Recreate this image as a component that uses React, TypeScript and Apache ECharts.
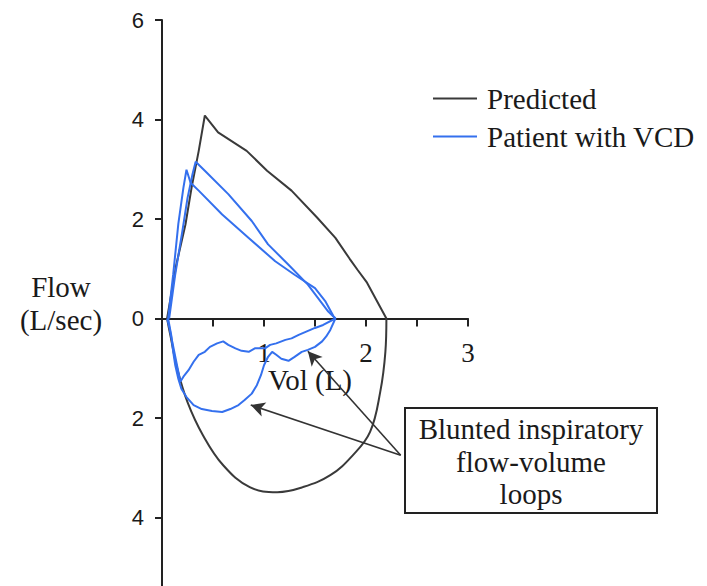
import React, { useEffect, useRef } from "react";
import * as echarts from "echarts";

// Flow-volume loops: [volume (L), flow (L/sec)], expiration positive, inspiration negative.
const predictedExpiration: [number, number][] = [
  [0.05, 0], [0.14, 1.08], [0.23, 1.89], [0.29, 2.63], [0.36, 3.37], [0.42, 4.08],
  [0.55, 3.74], [0.83, 3.37], [1.03, 2.97], [1.27, 2.57], [1.52, 2.03], [1.7, 1.62],
  [1.84, 1.2], [1.92, 0.97], [2.01, 0.72], [2.2, 0],
];
const predictedInspiration: [number, number][] = [
  [2.2, 0], [2.19, -0.67], [2.14, -1.47], [2.04, -2.28], [1.87, -2.75], [1.65, -3.15],
  [1.38, -3.39], [1.13, -3.49], [0.86, -3.39], [0.6, -2.95], [0.4, -2.34], [0.25, -1.68],
  [0.15, -1.01], [0.08, -0.32], [0.05, 0],
];

// Patient loop 1: lower expiratory limb with the lower inspiratory limb
const patientLoop1: [number, number][] = [
  [0.06, 0], [0.11, 0.89], [0.16, 1.9], [0.21, 2.63], [0.24, 2.99], [0.28, 2.73],
  [0.36, 2.57], [0.59, 2.09], [0.85, 1.62], [1.11, 1.15], [1.3, 0.88], [1.5, 0.61],
  [1.6, 0.35], [1.68, 0.05], [1.7, 0],
  [1.65, -0.23], [1.61, -0.36], [1.57, -0.46], [1.5, -0.57], [1.43, -0.63], [1.37, -0.67],
  [1.3, -0.77], [1.24, -0.85], [1.17, -0.81], [1.12, -0.73], [1.08, -0.67], [1.04, -0.77],
  [1.0, -0.94], [0.97, -1.14], [0.93, -1.34], [0.88, -1.51], [0.81, -1.64], [0.75, -1.74],
  [0.67, -1.82], [0.59, -1.88], [0.49, -1.86], [0.39, -1.82], [0.31, -1.74], [0.24, -1.58],
  [0.19, -1.41], [0.16, -1.21], [0.13, -0.94], [0.11, -0.67], [0.09, -0.33], [0.06, 0],
];

// Patient loop 2: upper expiratory limb with the upper inspiratory limb
const patientLoop2: [number, number][] = [
  [0.07, 0], [0.13, 0.89], [0.2, 1.76], [0.25, 2.42], [0.3, 2.91], [0.33, 3.15],
  [0.42, 2.97], [0.65, 2.5], [0.88, 1.96], [1.04, 1.49], [1.24, 1.08], [1.43, 0.68],
  [1.63, 0.14], [1.7, 0],
  [1.58, -0.13], [1.5, -0.19], [1.42, -0.26], [1.34, -0.33], [1.27, -0.4], [1.21, -0.43],
  [1.12, -0.5], [1.06, -0.53], [1.01, -0.6], [0.91, -0.6], [0.85, -0.67], [0.78, -0.65],
  [0.72, -0.6], [0.65, -0.53], [0.6, -0.46], [0.54, -0.5], [0.47, -0.57], [0.42, -0.67],
  [0.36, -0.73], [0.31, -0.87], [0.26, -1.04], [0.21, -1.17], [0.18, -1.27],
  [0.14, -0.87], [0.1, -0.46], [0.07, -0.16], [0.05, 0],
];

// Callout arrows: from the note box to the blunted inspiratory limbs
const arrowTail: [number, number] = [2.34, -2.75];
const arrowTips: [number, number][] = [
  [1.43, -0.66],
  [0.87, -1.74],
];

const seriesNames = ["Predicted", "Patient with VCD"];
const noteLines = ["Blunted inspiratory", "flow-volume", "loops"];

const BLACK = "#3a3a3a";
const BLUE = "#3470ee";
const SERIF = "'Liberation Serif', 'Times New Roman', serif";
const SANS = "'Liberation Sans', Arial, sans-serif";
const SERIF_SIZE = 29;

// Plot frame: flow runs from +6 down to -6; the volume axis sits on zero flow.
const GRID_TOP = 20;
const GRID_HEIGHT = 597;
const FLOW_MIN = -6;
const FLOW_MAX = 6;
const ZERO_OFFSET = (GRID_HEIGHT * FLOW_MIN) / (FLOW_MAX - FLOW_MIN);

export default function App() {
  const ref = useRef<HTMLDivElement>(null);

  useEffect(() => {
    if (!ref.current) return;
    const chart = echarts.init(ref.current, undefined, { renderer: "svg" });

    const lineSeries = (name: string, data: [number, number][], color: string, smooth: number | boolean = false) => ({
      name,
      type: "line",
      data,
      showSymbol: false,
      smooth,
      lineStyle: { color, width: 2 },
      itemStyle: { color },
      z: name === seriesNames[1] ? 3 : 2,
    });

    const serifText = (text: string, x: number, y: number, z = 5) => ({
      type: "text",
      x,
      y,
      z,
      style: {
        text,
        fontFamily: SERIF,
        fontSize: SERIF_SIZE,
        fill: "#1a1a1a",
        align: "center",
        verticalAlign: "middle",
      },
    });

    chart.setOption({
      animation: false,
      backgroundColor: "#ffffff",
      grid: {
        left: 162,
        top: GRID_TOP,
        width: 306,
        height: GRID_HEIGHT,
        containLabel: false,
        outerBoundsMode: "none",
      },
      legend: {
        data: seriesNames,
        orient: "vertical",
        left: 428,
        top: 79,
        icon: "rect",
        itemWidth: 44,
        itemHeight: 2,
        itemGap: 9,
        selectedMode: false,
        textStyle: {
          fontFamily: SERIF,
          fontSize: SERIF_SIZE,
          lineHeight: 29,
          color: "#1a1a1a",
          padding: [0, 0, 0, 5],
        },
      },
      xAxis: {
        type: "value",
        position: "bottom",
        offset: ZERO_OFFSET,
        min: 0,
        max: 3,
        interval: 0.5,
        axisLine: { onZero: false, lineStyle: { color: "#222", width: 2 } },
        axisTick: { show: true, length: 8, lineStyle: { color: "#222", width: 2 } },
        splitLine: { show: false },
        axisLabel: {
          margin: 21,
          fontFamily: SERIF,
          fontSize: 27,
          color: "#1a1a1a",
          formatter: (v: number) => (v !== 0 && Number.isInteger(v) ? String(v) : ""),
        },
      },
      yAxis: {
        type: "value",
        min: FLOW_MIN,
        max: FLOW_MAX,
        interval: 2,
        axisLine: { show: true, onZero: false, lineStyle: { color: "#222", width: 2 } },
        axisTick: { show: true, length: 7, lineStyle: { color: "#222", width: 2 } },
        splitLine: { show: false },
        axisLabel: {
          margin: 18,
          fontFamily: SANS,
          fontSize: 22,
          color: "#1a1a1a",
          formatter: (v: number) => (v === FLOW_MIN ? "" : String(Math.abs(v))),
        },
      },
      series: [
        lineSeries(seriesNames[0], predictedExpiration, BLACK),
        lineSeries(seriesNames[0], predictedInspiration, BLACK, 0.4),
        lineSeries(seriesNames[1], patientLoop1, BLUE),
        lineSeries(seriesNames[1], patientLoop2, BLUE),
        {
          name: "callout",
          type: "line",
          data: [],
          markLine: {
            silent: true,
            symbol: ["none", "arrow"],
            symbolSize: [11, 14],
            label: { show: false },
            lineStyle: { color: "#333", width: 1.6, type: "solid" },
            data: arrowTips.map((tip) => [{ coord: arrowTail }, { coord: tip }]),
          },
          z: 4,
        },
      ],
      graphic: [
        serifText("Flow", 61, 287),
        serifText("(L/sec)", 61, 320),
        serifText("Vol (L)", 310, 380),
        {
          type: "rect",
          shape: { x: 405, y: 408, width: 252, height: 105 },
          style: { fill: "#ffffff", stroke: "#222", lineWidth: 2 },
          z: 10,
        },
        ...noteLines.map((line, i) => serifText(line, 531, 429 + i * 32.5, 11)),
      ],
    });

    return () => chart.dispose();
  }, []);

  return (
    <div
      ref={ref}
      style={{ position: "absolute", left: 0, top: 0, width: 707, height: 586, background: "#fff" }}
    />
  );
}
